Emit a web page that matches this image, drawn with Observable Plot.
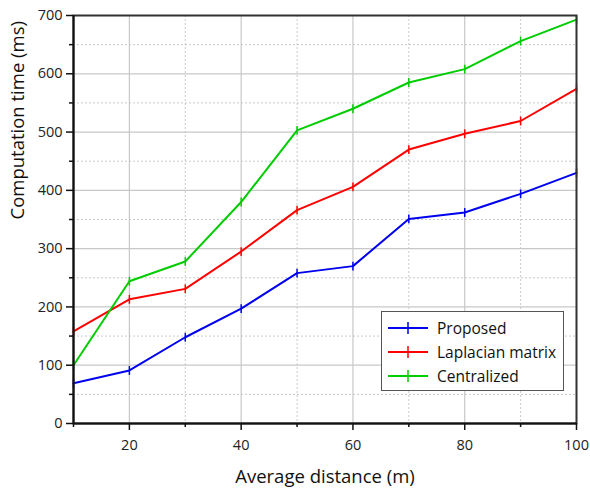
<!DOCTYPE html>
<html><head><meta charset="utf-8">
<script src="https://cdn.jsdelivr.net/npm/d3@7"></script>
<script src="https://cdn.jsdelivr.net/npm/@observablehq/plot@0.6"></script>
<style>
body{margin:0;background:#fff;font-family:"Open Sans",sans-serif;}
#wrap{position:relative;width:590px;height:494px;}
#legend{position:absolute;left:381px;top:311px;width:183px;height:80px;border:1px solid #555;background:#fff;box-sizing:border-box;padding:4px 0 0 6px;}
.row{display:flex;align-items:center;height:24px;font-size:15.5px;color:#111;}
.row svg{margin-right:9px;}
</style></head><body>
<div id="wrap"></div>
<script>
const distances = [10,20,30,40,50,60,70,80,90,100];
const proposed = [69,91,148,197,258,270,351,362,394,430];
const laplacian = [158,213,231,295,366,406,470,497,519,574];
const centralized = [100,244,278,380,503,540,585,608,656,693];
const seriesNames = ["Proposed","Laplacian matrix","Centralized"];
const seriesColors = ["#0000ee","#ff0000","#00cc00"];
const xMajor = [20,40,60,80,100];
const xMinor = [10,30,50,70,90];
const yMajor = [0,100,200,300,400,500,600,700];
const yMinor = [50,150,250,350,450,550,650];

const allSeries = [proposed, laplacian, centralized];
const data = [];
allSeries.forEach((vals,i)=>vals.forEach((v,j)=>data.push({x:distances[j],y:v,s:seriesNames[i]})));

const vbar = {draw(ctx,size){const r=Math.sqrt(size)/2;ctx.moveTo(0,-r);ctx.lineTo(0,r);}};

const chart = Plot.plot({
  width:590,height:494,
  marginLeft:73,marginRight:14,marginTop:15,marginBottom:71,
  style:{fontFamily:"Open Sans, sans-serif",background:"#fff"},
  x:{domain:[10,100],axis:null},
  y:{domain:[0,700],axis:null},
  color:{domain:seriesNames,range:seriesColors},
  marks:[
    Plot.gridX(xMinor,{stroke:"#bbb",strokeOpacity:1,strokeDasharray:"2,2",strokeWidth:0.8}),
    Plot.gridY(yMinor,{stroke:"#bbb",strokeOpacity:1,strokeDasharray:"2,2",strokeWidth:0.8}),
    Plot.gridX(xMajor,{stroke:"#c8c8c8",strokeOpacity:1,strokeWidth:1.2}),
    Plot.gridY(yMajor,{stroke:"#c8c8c8",strokeOpacity:1,strokeWidth:1.2}),
    Plot.line(data,{x:"x",y:"y",z:"s",stroke:"s",strokeWidth:2}),
    Plot.dot(data,{x:"x",y:"y",stroke:"s",symbol:()=>vbar,r:5,strokeWidth:1.5,fill:"none"}),
    Plot.frame({stroke:"#333",strokeWidth:2}),
    Plot.axisX(xMajor,{tickSize:7,tickPadding:9,fontSize:14.5,fill:"#222",stroke:"#111",strokeWidth:1.5,label:null}),
    Plot.axisX(xMinor,{tickSize:4,tickFormat:()=>"",stroke:"#111",strokeWidth:1.5,label:null}),
    Plot.axisY(yMajor,{tickSize:7,tickPadding:4,fontSize:14.5,fill:"#222",stroke:"#111",strokeWidth:1.5,label:null}),
    Plot.axisY(yMinor,{tickSize:4,tickFormat:()=>"",stroke:"#111",strokeWidth:1.5,label:null}),
    Plot.ruleY([0],{stroke:"#111",strokeWidth:2}),
    Plot.ruleX([10],{stroke:"#111",strokeWidth:2}),
    Plot.text(["Average distance (m)"],{frameAnchor:"bottom",dy:59,fontSize:18.5,fill:"#111"}),
    Plot.text(["Computation time (ms)"],{frameAnchor:"left",dx:-55,rotate:-90,fontSize:18.5,fill:"#111"})
  ]
});
const wrap = document.getElementById("wrap");
wrap.appendChild(chart);

const legend = document.createElement("div");
legend.id="legend";
seriesNames.forEach((n,i)=>{
  const row=document.createElement("div");row.className="row";
  row.innerHTML=`<svg width="40" height="14"><line x1="0" y1="7" x2="40" y2="7" stroke="${seriesColors[i]}" stroke-width="2"/><line x1="20" y1="1" x2="20" y2="13" stroke="${seriesColors[i]}" stroke-width="1.5"/></svg><span>${n}</span>`;
  legend.appendChild(row);
});
wrap.appendChild(legend);
</script></body></html>
